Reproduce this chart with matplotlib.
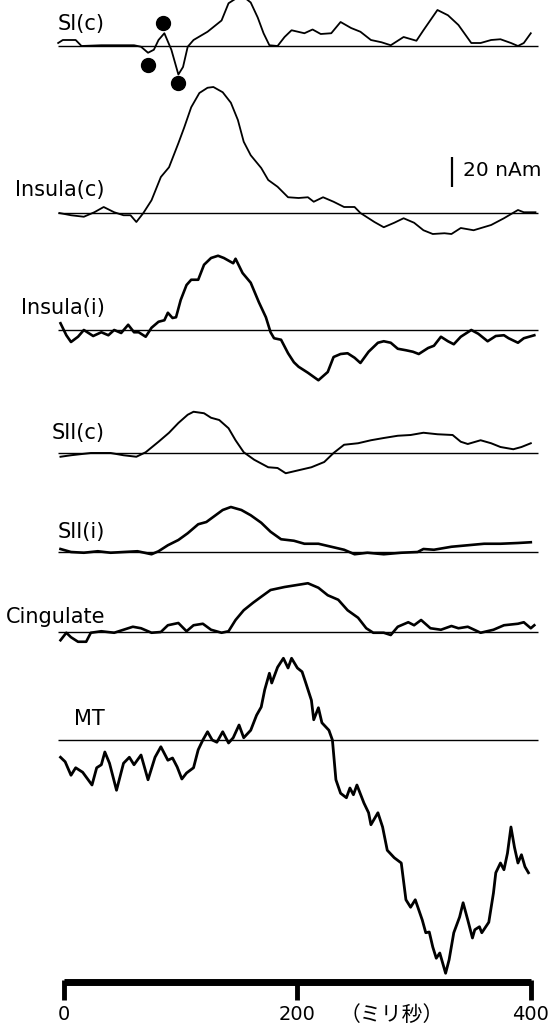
import matplotlib as mpl
mpl.use('Agg')
import matplotlib.pyplot as plt
import numpy as np

# time (ms) and source amplitude (nAm)
si_c_t = [-5, -1, 10, 15, 32, 60, 66, 72, 77, 81, 86, 92, 98, 102, 106, 111, 123, 135, 141, 152,
          160, 166, 171, 176, 183, 189, 195, 206, 213, 220, 229, 237, 246, 254, 263, 272, 280, 291,
          302, 308, 320, 329, 338, 349, 357, 366, 374, 383, 389, 394, 400]
si_c_v = [2, 4, 4, 0, 0.5, 0.5, -0.5, -4.5, -2.5, 4, 8.5, -2.5, -19, -14, -0.5, 4, 9.5, 17, 28.5, 34,
          29, 19, 8.5, 0.5, 0, 6, 10.5, 8.5, 11, 8, 8.5, 16, 12, 9.5, 4, 2.5, 0.5, 6,
          3.5, 10.5, 24, 20.5, 14, 2, 2, 4, 4.5, 2, 0, 2, 8.5]

ins_c_t = [-4, 6, 17, 26, 34, 43, 51, 57, 62, 68, 75, 83, 90, 98, 103, 109, 116, 123, 128, 136,
           143, 149, 154, 160, 169, 175, 183, 192, 201, 209, 214, 222, 231, 240, 249, 254, 266,
           274, 283, 291, 300, 308, 316, 326, 332, 340, 351, 366, 377, 389, 394, 404]
ins_c_v = [0, -1.5, -2.5, 0.5, 4, 0.5, -1.5, -1.5, -6, 0, 8.5, 24, 30.5, 46.5, 57, 70.5, 80, 83.5, 84, 80.5,
           73.5, 62, 47.5, 38.5, 30, 22, 17.5, 10.5, 10, 10.5, 7.5, 10.5, 7.5, 4, 4, 0, -6,
           -9.5, -6.5, -3.5, -6.5, -11.5, -14, -13.5, -14, -10, -11.5, -8, -3.5, 2, 0.5, 0.5]

ins_i_t = [-3, 2, 6, 12, 17, 25, 32, 38, 43, 49, 55, 60, 64, 70, 75, 81, 86, 89, 93, 96,
           100, 105, 109, 115, 120, 126, 132, 137, 145, 147, 153, 160, 167, 173, 177, 180, 186,
           192, 197, 201, 209, 218, 226, 231, 237, 243, 249, 254, 261, 269, 274, 280, 286, 293,
           299, 304, 312, 317, 323, 329, 334, 340, 349, 355, 363, 370, 377, 381, 389, 394, 403]
ins_i_v = [4.5, -3.5, -8, -4.5, 0, -4, -1.5, -3.5, 0, -2, 3.5, -1.5, -1.5, -4.5, 1.5, 5.5, 6.5, 11.5, 8, 8.5,
           20, 30, 33.5, 33.5, 43.5, 48, 49.5, 48, 44.5, 47.5, 38, 31.5, 18.5, 8.5, -1.5, -5.5, -6.5,
           -15.5, -21.5, -24.5, -28.5, -33.5, -28, -18, -16, -15.5, -18.5, -22, -14.5, -8.5, -7.5, -8.5,
           -12.5, -13.5, -14.5, -16, -12, -10.5, -4.5, -7.5, -9.5, -4.5, 0, -2.5, -7.5, -4, -3.5, -5.5,
           -8.5, -5.5, -3.5]

sii_c_t = [-3, 6, 23, 40, 51, 62, 70, 81, 90, 98, 106, 111, 120, 126, 133, 141, 147, 154, 163, 175,
           183, 190, 201, 212, 223, 231, 240, 252, 263, 274, 286, 297, 308, 320, 333, 340, 346,
           357, 366, 374, 385, 392, 400]
sii_c_v = [-2.5, -1.5, 0, 0, -1.5, -2.5, 0.5, 7.5, 13.5, 20, 25.5, 27.5, 26.5, 23.5, 22, 16.5, 8.5, 0.5, -4.5, -9.5,
           -10, -13.5, -11.5, -9.5, -6, 0, 5.5, 6.5, 8.5, 10, 11.5, 12, 13.5, 12.5, 12, 7.5, 6,
           8.5, 6.5, 4, 2.5, 4, 6.5]

sii_i_t = [-3, 6, 17, 29, 40, 51, 63, 75, 81, 89, 98, 106, 115, 122, 129, 136, 143, 152, 160, 169,
           177, 186, 197, 206, 218, 229, 240, 249, 260, 274, 289, 303, 308, 317, 332, 346, 360,
           374, 389, 400]
sii_i_v = [2, 0, -0.5, 0.5, -0.5, 0, 0.5, -1.5, 0.5, 4.5, 8, 12.5, 18.5, 20, 24, 28, 30, 28, 24.5, 19.5,
           13.5, 8.5, 7.5, 5.5, 5.5, 3.5, 1.5, -1.5, -0.5, -1.5, -0.5, 0, 2, 1.5, 3.5, 4.5, 5.5,
           5.5, 6, 6.5]

cing_t = [-3, 2, 6, 12, 19, 23, 32, 43, 51, 59, 66, 75, 83, 89, 98, 105, 111, 119, 126, 135,
          141, 147, 154, 162, 169, 177, 189, 201, 209, 218, 226, 235, 243, 252, 259, 265, 274,
          280, 286, 295, 300, 306, 314, 323, 332, 338, 346, 357, 368, 377, 389, 394, 400, 403]
cing_v = [-5.5, -0.5, -3.5, -6.5, -6.5, -0.5, 0.5, -0.5, 1.5, 3.5, 2.5, -0.5, 0, 4.5, 6, 0.5, 4.5, 5.5, 1.5, -0.5,
          0.5, 8, 14.5, 19.5, 23.5, 28, 30, 31.5, 32.5, 29.5, 24.5, 21.5, 14.5, 9.5, 2.5, -0.5, -0.5,
          -2, 3.5, 6.5, 4.5, 8, 2.5, 1.5, 4, 2.5, 3.5, -0.5, 1.5, 4.5, 5.5, 6.5, 2.5, 4.5]

mt_t = [-3, 1, 6, 10, 16, 24, 28, 32, 35, 39, 45, 51, 56, 60, 66, 72, 78, 83, 89, 93,
        97, 101, 105, 111, 115, 119, 123, 127, 131, 136, 141, 145, 150, 154, 160, 165, 169, 172,
        176, 178, 183, 188, 192, 195, 200, 204, 207, 212, 214, 218, 221, 227, 230, 233, 237, 242,
        245, 248, 251, 257, 261, 263, 269, 273, 277, 283, 289, 293, 297, 301, 307, 310, 313, 316,
        319, 322, 327, 330, 334, 339, 342, 346, 350, 352, 356, 358, 364, 368, 370, 374, 377, 380,
        383, 386, 389, 392, 395, 398]
mt_v = [-11.5, -14.5, -23.5, -18.5, -21.5, -30, -18.5, -16.5, -8, -15.5, -33.5, -15.5, -11.5, -16.5, -10,
        -26.5, -11.5, -4.5, -13.5, -12, -18, -26, -22, -18.5, -6.5, 0, 5.5, 0, -1.5, 5.5, -2, 1.5, 10,
        1.5, 6.5, 16.5, 22, 33.5, 44.5, 38, 48.5, 54.5, 48, 54.5, 48, 45.5, 38.5, 26.5, 13.5, 21.5,
        11.5, 6.5, 0, -26.5, -35.5, -38.5, -32, -36.5, -30, -42, -48.5, -56.5, -48.5, -58, -73.5,
        -78.5, -82, -106.5, -111.5, -106.5, -120, -128.5, -128, -138, -145.5, -142, -155.5, -146.5,
        -128.5, -118, -108.5, -120, -132, -126.5, -124.5, -128.5, -121.5, -102, -88.5, -82, -86.5,
        -75.5, -58, -71.5, -82, -76.5, -84.5, -88.5]

labels = ["SI(c)", "Insula(c)", "Insula(i)", "SII(c)", "SII(i)", "Cingulate", "MT"]
times = [si_c_t, ins_c_t, ins_i_t, sii_c_t, sii_i_t, cing_t, mt_t]
values = [si_c_v, ins_c_v, ins_i_v, sii_c_v, sii_i_v, cing_v, mt_v]

# marked SI(c) deflections (ms, nAm)
dot_t = [85, 72, 98]
dot_v = [15.5, -12.5, -24.5]

tick_vals = [0, 200, 400]
unit_label = "（ミリ秒）"
scale_nam = 20

# layout (pixels of the 554x1025 canvas)
W, H = 554, 1025
X0 = 64           # px of t = 0
PX_MS = 1.167     # px per ms
PX_NAM = 1.5      # px per nAm
rows = [46, 213, 330, 453, 552, 632, 740]
label_y = [24, 190, 308, 433, 532, 617, 719]
widths = [1.3, 1.3, 1.9, 1.4, 1.9, 1.9, 2.0]


def px_x(x):
    return (x - X0) / PX_MS


def px_y(y):
    return y / PX_NAM


fig = plt.figure(figsize=(W / 100, H / 100), dpi=100)
ax = fig.add_axes([0, 0, 1, 1])
ax.set_xlim(px_x(0), px_x(W))
ax.set_ylim(px_y(H), 0)
ax.axis('off')

for lab, t, v, row, ly, lw in zip(labels, times, values, rows, label_y, widths):
    base = px_y(row)
    ax.hlines(base, -5, 406, color='black', lw=1.0)
    ax.plot(t, base - np.array(v), color='black', lw=lw, solid_joinstyle='round')
    ax.text(px_x(105), px_y(ly), lab, ha='right', va='center', fontsize=15,
            family='DejaVu Sans')

ax.plot(dot_t, px_y(rows[0]) - np.array(dot_v), 'o', color='black', ms=10)

# scale bar
ax.vlines(px_x(452), px_y(187), px_y(187) - scale_nam, color='black', lw=1.6)
ax.text(px_x(463), px_y(171), "%d nAm" % scale_nam, ha='left', va='center', fontsize=14.5,
        family='DejaVu Sans')

# time axis
ax.plot([tick_vals[0], tick_vals[-1]], [px_y(982)] * 2, color='black', lw=5, solid_capstyle='butt')
ax.vlines(tick_vals, px_y(980), px_y(1000), color='black', lw=3.5)
for tv in tick_vals:
    ax.text(tv, px_y(1015), str(tv), ha='center', va='center', fontsize=14, family='DejaVu Sans')
ax.text(px_x(392), px_y(1015), unit_label, ha='center', va='center', fontsize=15,
        family=['Noto Sans CJK JP', 'DejaVu Sans'])

fig.savefig('out.png', dpi=100, facecolor='white')
